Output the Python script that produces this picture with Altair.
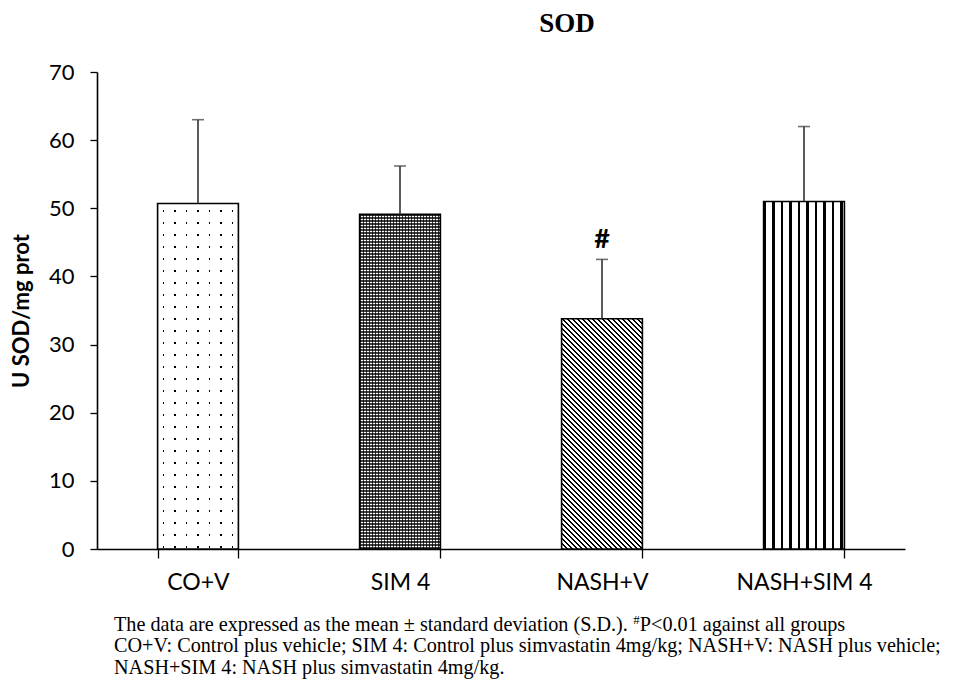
import math
import altair as alt
import pandas as pd

# ---------------- data ----------------
groups = ["CO+V", "SIM 4", "NASH+V", "NASH+SIM 4"]
means = [50.7, 49.1, 33.8, 51.0]
sds = [12.3, 7.1, 8.7, 11.0]
y_ticks = [0, 10, 20, 30, 40, 50, 60, 70]
title_text = "SOD"
y_title = "U SOD/mg prot"
sig_group = "NASH+V"
sig_mark = "#"
caption_1a = "The data are expressed as the mean ± standard deviation (S.D.). "
caption_1b = "#"
caption_1c = "P<0.01 against all groups"
caption_2 = "CO+V: Control plus vehicle; SIM 4: Control plus simvastatin 4mg/kg; NASH+V: NASH plus vehicle;"
caption_3 = "NASH+SIM 4: NASH plus simvastatin 4mg/kg."

# ---------------- layout ----------------
W, H = 808, 477
Y_MAX = 70
STEP = W / len(groups)
BAR_W = STEP * 0.4

df = pd.DataFrame({"group": groups, "mean": means, "sd": sds})
df["upper"] = df["mean"] + df["sd"]
bar_h = {g: m / Y_MAX * H for g, m in zip(groups, means)}

TRANSP = "rgba(255,255,255,0)"

# Times-compatible (Liberation Serif) advance widths, in em, used to place the superscript
TIMES_W = {"T": .611, "h": .5, "e": .444, " ": .25, "d": .5, "a": .444, "t": .278,
           "r": .333, "x": .5, "p": .5, "s": .389, "±": .549, "n": .5, "m": .778,
           "v": .5, "i": .278, "o": .5, "(": .333, "S": .556, ".": .25, "D": .722, ")": .333}


def text_width(txt, size):
    return sum(TIMES_W.get(ch, 0.5) for ch in txt) * size


def stripe_stops(length, period, on, c_on, c_off, phase=0.0):
    stops = []
    pos = -phase
    while pos < length:
        a = max(pos, 0.0)
        b = min(max(pos + on, 0.0), length)
        c = min(pos + period, length)
        if b > a:
            stops += [(a, c_on), (b, c_on)]
        if c > b:
            stops += [(b, c_off), (c, c_off)]
        pos += period
    return [{"offset": round(o / length, 5), "color": col} for o, col in stops]


def hgrad(stops):  # varies along x
    return {"gradient": "linear", "x1": 0, "y1": 0, "x2": 1, "y2": 0, "stops": stops}


def vgrad(stops):  # varies along y
    return {"gradient": "linear", "x1": 0, "y1": 0, "x2": 0, "y2": 1, "stops": stops}


def diag_grad(w, h, period_x, frac, c_on, c_off):
    k = h / w
    a = (1 + k) / (1 + k * k)
    b = -k * (1 + k) / (1 + k * k)
    length = (w + h) / math.sqrt(2)
    per = period_x / math.sqrt(2)
    stops = stripe_stops(length, per, per * frac, c_on, c_off)
    return {"gradient": "linear", "x1": 0, "y1": 1, "x2": round(a, 5),
            "y2": round(1 + b, 5), "stops": stops}


x_enc = alt.X(
    "group:N", sort=groups, title=None,
    scale=alt.Scale(paddingInner=0.6, paddingOuter=0.3),
    axis=alt.Axis(labelAngle=0, labelFont="Lato", labelFontSize=23, labelColor="black",
                  tickBand="extent", tickSize=9, tickColor="black", tickWidth=1.3,
                  domainColor="black", domainWidth=1.6, labelPadding=13, grid=False),
)
y_scale = alt.Scale(domain=[0, Y_MAX], nice=False, zero=True)
y_axis = alt.Axis(values=y_ticks, grid=False, labelFont="Lato", labelFontSize=22,
                  labelColor="black", tickSize=7, tickColor="black", tickWidth=1.3,
                  domainColor="black", domainWidth=1.6, labelPadding=16,
                  titleFont="Lato", titleFontSize=22, titleFontWeight="bold",
                  titleColor="black", titlePadding=15)


def yq(field):
    return alt.Y(f"{field}:Q", scale=y_scale, axis=y_axis, title=y_title)


base = alt.Chart(df)


def bar_layer(group, fill):
    return (base.transform_filter(alt.datum.group == group)
            .mark_bar(fill=fill, strokeWidth=0)
            .encode(x=x_enc, y=yq("mean")))


layers = []
# CO+V : dotted
layers.append(bar_layer("CO+V", "black"))
layers.append(bar_layer("CO+V", hgrad(stripe_stops(BAR_W, 11.5, 10.2, "white", TRANSP, phase=5))))
layers.append(bar_layer("CO+V", vgrad(stripe_stops(bar_h["CO+V"], 12.0, 10.7, "white", TRANSP, phase=4))))
# SIM 4 : dense checker
layers.append(bar_layer("SIM 4", "white"))
layers.append(bar_layer("SIM 4", hgrad(stripe_stops(BAR_W, 3, 1.5, "rgba(0,0,0,0.74)", "rgba(0,0,0,0)"))))
layers.append(bar_layer("SIM 4", vgrad(stripe_stops(bar_h["SIM 4"], 3, 1.5, "rgba(0,0,0,0.74)", "rgba(0,0,0,0)"))))
# NASH+V : diagonal hatch
layers.append(bar_layer("NASH+V", diag_grad(BAR_W, bar_h["NASH+V"], 5.0, 0.45, "black", "white")))
# NASH+SIM 4 : vertical stripes
layers.append(bar_layer("NASH+SIM 4", hgrad(stripe_stops(BAR_W, 8.5, 2.7, "black", "white"))))

# outlines
layers.append(base.mark_bar(fill="transparent", stroke="black", strokeWidth=1.6)
              .encode(x=x_enc, y=yq("mean")))
# error bars (upper only)
layers.append(base.mark_rule(color="#333333", strokeWidth=1.6)
              .encode(x=x_enc, y=yq("mean"), y2="upper:Q"))
layers.append(base.mark_tick(color="#333333", size=12, thickness=1.6)
              .encode(x=x_enc, y=yq("upper")))
# significance mark
layers.append(base.transform_filter(alt.datum.group == sig_group)
              .mark_text(text=sig_mark, font="Lato", fontSize=27, fontWeight="bold",
                         color="black", baseline="middle", dy=-19)
              .encode(x=x_enc, y=yq("upper")))

CAP_FS = 20.2
CAP_X = 17
SUP_FS = 13


def cap_layer(txt, x, y, size=CAP_FS, dy=0):
    return (alt.Chart(pd.DataFrame({"t": [txt]}))
            .mark_text(align="left", baseline="alphabetic", font="Liberation Serif",
                       fontSize=size, color="black", dy=dy)
            .encode(x=alt.value(x), y=alt.value(y), text="t:N"))


x_sup = CAP_X + text_width(caption_1a, CAP_FS)
layers.append(cap_layer(caption_1a, CAP_X, 559))
layers.append(cap_layer(caption_1b, x_sup, 559, size=SUP_FS, dy=-7))
layers.append(cap_layer(caption_1c, x_sup + 0.5 * SUP_FS, 559))
layers.append(cap_layer(caption_2, CAP_X, 580))
layers.append(cap_layer(caption_3, CAP_X, 602))

chart = (
    alt.layer(*layers)
    .properties(
        width=W, height=H,
        view=alt.ViewBackground(stroke="transparent", strokeWidth=0),
        title=alt.TitleParams(title_text, font="Liberation Serif", fontSize=27,
                              fontWeight="bold", color="black", anchor="middle",
                              frame="group", dx=66, offset=23),
        autosize=alt.AutoSizeParams(type="none"),
        padding={"left": 89, "top": 64, "right": 60, "bottom": 135},
    )
    .configure_view(stroke="transparent", strokeWidth=0)
    .configure(background="white")
)

chart.save("out.html", embed_options={"renderer": "svg", "actions": False})
